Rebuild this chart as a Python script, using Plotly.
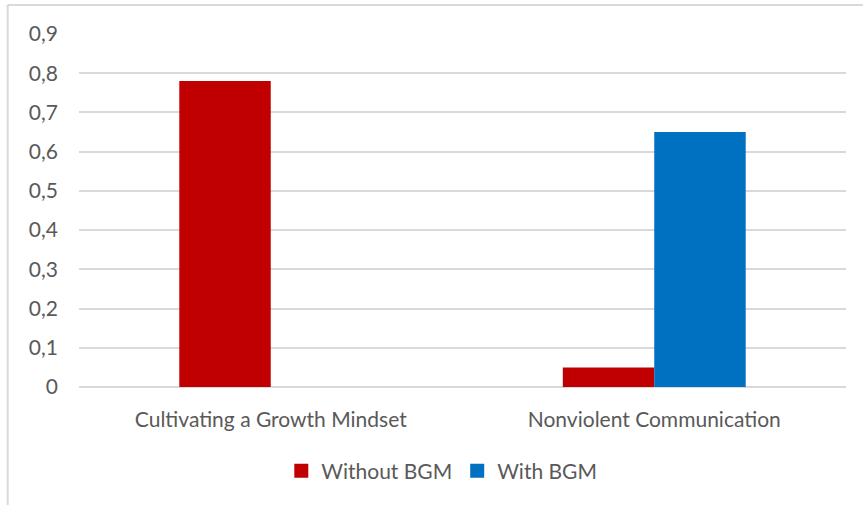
import plotly.graph_objects as go

# Survey results per course, with and without BGM
courses = ["Cultivating a Growth Mindset", "Nonviolent Communication"]
without_bgm = [0.78, 0.05]
with_bgm = [0.0, 0.65]
y_ticks = [0, 0.1, 0.2, 0.3, 0.4, 0.5, 0.6, 0.7, 0.8, 0.9]

RED = "#C00000"
BLUE = "#0070C0"
TEXT = "#595959"
GRID = "#D9D9D9"
FONT = "Lato"
SIZE = 21

fig = go.Figure()
fig.add_bar(x=courses, y=without_bgm, name="Without BGM",
            marker=dict(color=RED, line=dict(width=0)), showlegend=False)
fig.add_bar(x=courses, y=with_bgm, name="With BGM",
            marker=dict(color=BLUE, line=dict(width=0)), showlegend=False)

# square legend keys
for name, color in [("Without BGM", RED), ("With BGM", BLUE)]:
    fig.add_scatter(x=[None], y=[None], mode="markers", name=name,
                    marker=dict(symbol="square", size=14, color=color))

# chart-area frame (top and left edges)
frame = dict(type="line", xref="paper", yref="paper",
             line=dict(color=GRID, width=2), layer="below")

fig.update_layout(
    width=863, height=505,
    margin=dict(l=79, r=17, t=34, b=118),
    paper_bgcolor="white", plot_bgcolor="white",
    separators=", ",
    barmode="group", bargap=0.523, bargroupgap=0,
    font=dict(family=FONT, size=SIZE, color=TEXT),
    legend=dict(orientation="h", x=0.473, xanchor="center",
                y=-0.238, yanchor="middle", yref="paper",
                font=dict(size=SIZE, color=TEXT), itemwidth=30,
                traceorder="normal"),
    shapes=[
        dict(frame, x0=-0.093, x1=1.03, y0=1.082, y1=1.082),
        dict(frame, x0=-0.093, x1=-0.093, y0=1.082, y1=-0.34),
    ],
)
fig.update_xaxes(showgrid=False, showline=False, ticks="",
                 ticklabelstandoff=18, tickfont=dict(size=SIZE, color=TEXT))
fig.update_yaxes(range=[0, 0.9], tickvals=y_ticks, tickformat=".1~f",
                 showgrid=True, gridcolor=GRID, gridwidth=1.5,
                 zeroline=True, zerolinecolor=GRID, zerolinewidth=1.5,
                 showline=False, ticks="", ticklabelstandoff=20,
                 tickfont=dict(size=SIZE, color=TEXT))

fig.write_html("out.html")
